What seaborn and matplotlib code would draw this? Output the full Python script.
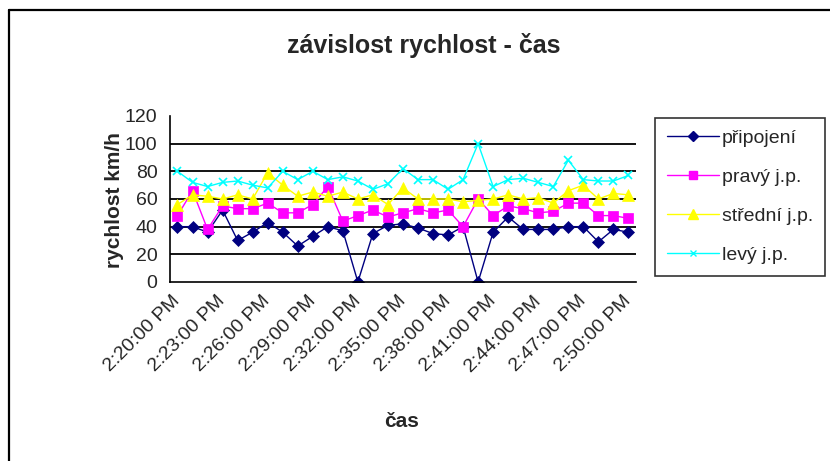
import pandas as pd
import matplotlib.pyplot as plt
import seaborn as sns
from matplotlib.lines import Line2D

times = ["2:20:00 PM", "2:21:00 PM", "2:22:00 PM", "2:23:00 PM", "2:24:00 PM", "2:25:00 PM",
         "2:26:00 PM", "2:27:00 PM", "2:28:00 PM", "2:29:00 PM", "2:30:00 PM", "2:31:00 PM",
         "2:32:00 PM", "2:33:00 PM", "2:34:00 PM", "2:35:00 PM", "2:36:00 PM", "2:37:00 PM",
         "2:38:00 PM", "2:39:00 PM", "2:40:00 PM", "2:41:00 PM", "2:42:00 PM", "2:43:00 PM",
         "2:44:00 PM", "2:45:00 PM", "2:46:00 PM", "2:47:00 PM", "2:48:00 PM", "2:49:00 PM",
         "2:50:00 PM"]

pripojeni = [40, 40, 36, 52, 30, 36, 43, 36, 26, 33, 40, 37, 0, 35, 41, 42,
             39, 35, 34, 40, 0, 36, 47, 38, 38, 38, 40, 40, 29, 38, 36]
pravy = [48, 66, 38, 55, 53, 53, 57, 50, 50, 56, 69, 44, 48, 52, 47, 50,
         53, 50, 52, 40, 60, 48, 55, 53, 50, 51, 57, 57, 48, 48, 46]
stredni = [56, 63, 62, 60, 63, 60, 79, 70, 62, 65, 62, 65, 60, 63, 56, 68,
           60, 60, 60, 58, 59, 60, 63, 60, 61, 57, 66, 70, 60, 64, 63]
levy = [80, 72, 69, 72, 73, 70, 68, 80, 74, 80, 74, 76, 73, 67, 71, 82,
        74, 74, 67, 74, 100, 69, 74, 75, 72, 69, 88, 74, 73, 73, 77]

series_names = ["připojení", "pravý j.p.", "střední j.p.", "levý j.p."]
colors = ["#000080", "#FF00FF", "#FFFF00", "#00FFFF"]
markers = ["D", "s", "^", "x"]
msizes = [6, 7, 8, 6]

df = pd.DataFrame({"cas": list(range(len(times)))})
for name, vals in zip(series_names, [pripojeni, pravy, stredni, levy]):
    df[name] = vals
long_df = df.melt(id_vars="cas", var_name="serie", value_name="rychlost")

sns.set_style("white")
plt.rcParams["font.family"] = ["Liberation Sans", "DejaVu Sans"]

fig = plt.figure(figsize=(8.3, 4.61), dpi=100)
ax = fig.add_axes([0.2048, 0.3883, 0.5614, 0.3601])

for name, c, m, ms in zip(series_names, colors, markers, msizes):
    sub = long_df[long_df["serie"] == name]
    sns.lineplot(data=sub, x="cas", y="rychlost", ax=ax, color=c, marker=m,
                 markersize=ms, markeredgecolor=c, markeredgewidth=1.2 if m == "x" else 0.5,
                 linewidth=1.0, label=name, legend=False)

ax.set_xlim(-0.5, len(times) - 0.5)
ax.set_ylim(0, 120)
ax.set_yticks(range(0, 121, 20))
for v in range(20, 101, 20):
    ax.axhline(v, color="black", linewidth=1.3, zorder=0)

ax.set_xticks(range(0, len(times), 3))
ax.set_xticklabels(times[::3], rotation=45, ha="right", va="center",
                   rotation_mode="anchor", fontsize=14)
ax.set_xticks([i - 0.5 for i in range(len(times) + 1)], minor=True)
ax.tick_params(axis="x", which="major", length=0, pad=12)
ax.tick_params(axis="x", which="minor", length=5, width=1, direction="out", color="black")
ax.tick_params(axis="y", length=5, width=1, direction="out", color="black", labelsize=14, pad=4)

for s in ["top", "right"]:
    ax.spines[s].set_visible(False)
for s in ["left", "bottom"]:
    ax.spines[s].set_color("black")
    ax.spines[s].set_linewidth(1.2)

ax.set_xlabel("")
ax.set_ylabel("")
fig.text(0.51, 0.902, "závislost rychlost - čas", fontsize=18, fontweight="bold",
         ha="center", va="center")
fig.text(0.138, 0.566, "rychlost km/h", fontsize=15, fontweight="bold",
         rotation=90, ha="center", va="center")
fig.text(0.484, 0.085, "čas", fontsize=15, fontweight="bold", ha="center", va="center")

handles = [Line2D([], [], color=c, marker=m, markersize=ms - 1, markeredgecolor=c, linewidth=1.0)
           for c, m, ms in zip(colors, markers, msizes)]
leg = fig.legend(handles, series_names, loc="upper left", bbox_to_anchor=(0.789, 0.744),
                 bbox_transform=fig.transFigure, fontsize=14, frameon=True, fancybox=False,
                 edgecolor="black", handlelength=2.7, handletextpad=0.15,
                 labelspacing=1.1, borderpad=0.6, borderaxespad=0)
leg.get_frame().set_linewidth(1.2)

# chart area border (left and top edges visible)
fig.add_artist(Line2D([0.0108, 0.0108], [0.0, 0.979], transform=fig.transFigure,
                      color="black", linewidth=1.6))
fig.add_artist(Line2D([0.0108, 1.0], [0.979, 0.979], transform=fig.transFigure,
                      color="black", linewidth=1.6))

fig.savefig("out.png", dpi=100)
